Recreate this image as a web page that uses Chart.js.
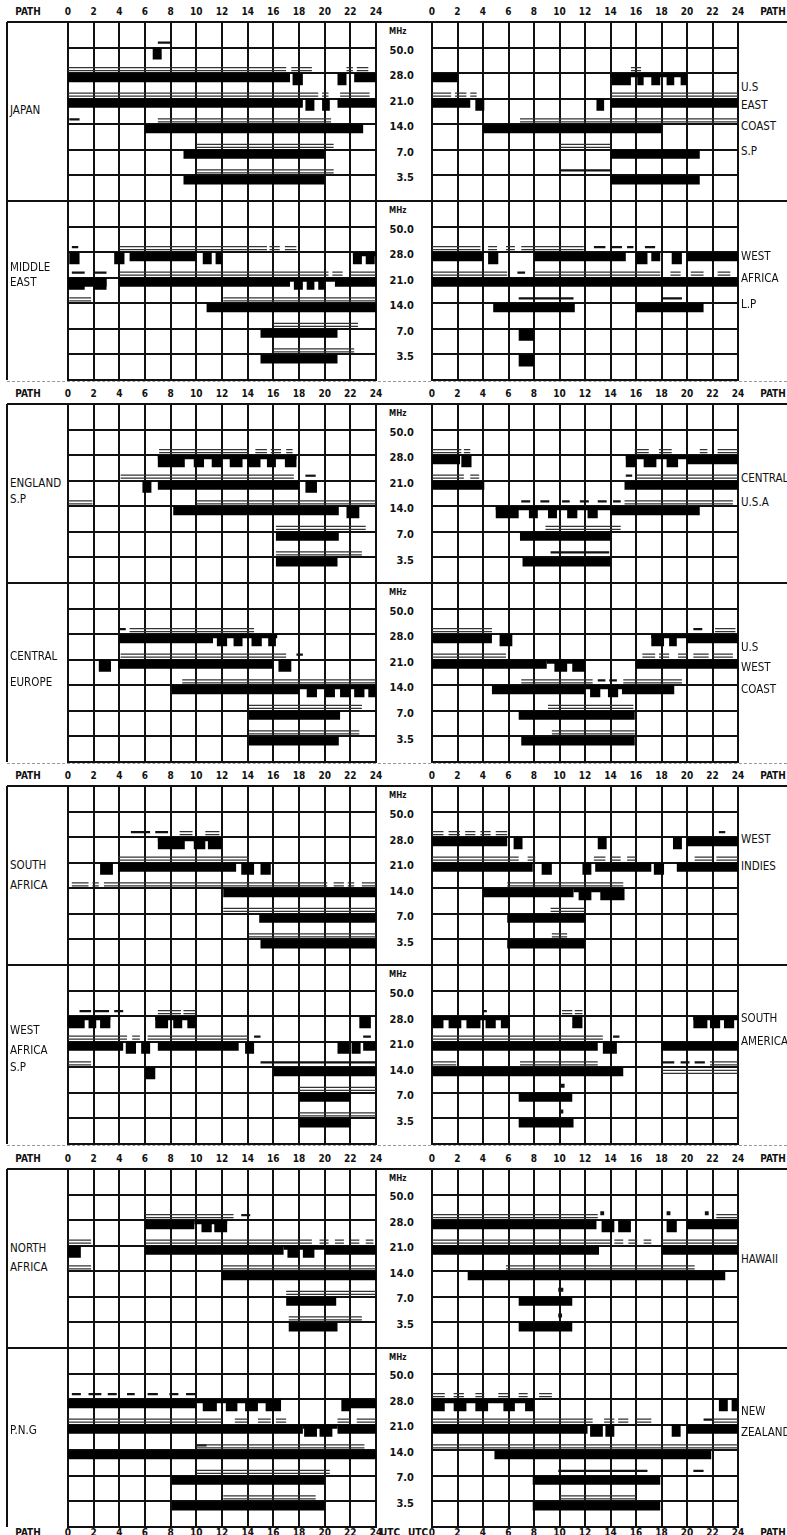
<!DOCTYPE html>
<html>
<head>
<meta charset="utf-8">
<script src="https://cdn.jsdelivr.net/npm/chart.js@4.4.1/dist/chart.umd.min.js"></script>
<style>
  body { margin: 0; background: #fff; width: 787px; height: 1535px; position: relative; overflow: hidden;
         font-family: "DejaVu Sans Condensed", "DejaVu Sans", sans-serif; color: #111; }
  canvas { position: absolute; }
  .t { position: absolute; white-space: nowrap; line-height: 1; }
  .hd { font-weight: bold; font-size: 10px; transform: translate(-50%, -50%); }
  .mhz { font-weight: bold; font-size: 11px; transform: translate(-100%, -50%); }
  .mhzu { font-weight: bold; font-size: 8px; transform: translate(0, -50%); }
  .nm { font-size: 11.5px; transform: translate(0, -50%); }
  .hl { position: absolute; height: 0; border-top: 2px solid #111; }
  .vl { position: absolute; width: 0; border-left: 2px solid #111; }
  .dl { position: absolute; height: 0; border-top: 1px dashed #999; }
</style>
</head>
<body>
<script>
// hours along the path axis and the frequency bands
const hourTicks = [0, 2, 4, 6, 8, 10, 12, 14, 16, 18, 20, 22, 24];
const bandLabels = ['50.0', '28.0', '21.0', '14.0', '7.0', '3.5'];
const bandValues = [50, 28, 21, 14, 7, 3.5];

// [kind, band MHz, from hour, to hour]
// bar = solid bar, blk = hanging block, str = thin strip, dbl = double line,
// ln = single line, low = double line under band, dot = small mark
const japan = [
  ['blk', 50, 6.6, 7.3], ['ln', 50, 7, 8],
  ['dbl', 28, 0, 17], ['dbl', 28, 17.4, 19], ['dbl', 28, 21.7, 22.2], ['dbl', 28, 22.5, 23.4],
  ['bar', 28, 0, 17.3], ['blk', 28, 17.5, 18.3], ['blk', 28, 21, 21.7], ['bar', 28, 22.3, 24],
  ['dbl', 21, 0, 19.5], ['dbl', 21, 19.8, 20.3], ['dbl', 21, 21.2, 23.5],
  ['bar', 21, 0, 18.3], ['blk', 21, 18.5, 19.2], ['blk', 21, 19.8, 20.4], ['bar', 21, 21, 24],
  ['ln', 14, 0.1, 0.9], ['dbl', 14, 7, 20.5], ['bar', 14, 6, 23],
  ['dbl', 7, 10, 20.7], ['bar', 7, 9, 20],
  ['dbl', 3.5, 10, 20.7], ['bar', 3.5, 9, 20]
];
const usEastSP = [
  ['bar', 28, 0, 2], ['dbl', 28, 15.6, 16.4], ['str', 28, 14, 20],
  ['blk', 28, 14.1, 15.6], ['blk', 28, 16.1, 16.6], ['blk', 28, 17.2, 17.9], ['blk', 28, 18.4, 19], ['blk', 28, 19.5, 20],
  ['dbl', 21, 0, 1.5], ['dbl', 21, 1.8, 2.7], ['dbl', 21, 3, 3.5], ['bar', 21, 0, 3], ['blk', 21, 3.4, 4.1],
  ['blk', 21, 12.9, 13.5], ['dbl', 21, 14, 24], ['bar', 21, 14, 24],
  ['dbl', 14, 6.9, 24], ['bar', 14, 4, 18],
  ['dbl', 7, 10, 14], ['bar', 7, 14, 21],
  ['ln', 3.5, 10, 14], ['bar', 3.5, 14, 21]
];
const middleEast = [
  ['ln', 28, 0.3, 0.8], ['dbl', 28, 4, 15.5], ['dbl', 28, 15.7, 16.5], ['dbl', 28, 16.9, 17.8],
  ['blk', 28, 0.1, 0.9], ['blk', 28, 3.6, 4.4], ['bar', 28, 4.8, 10], ['blk', 28, 10.5, 11.2], ['blk', 28, 11.5, 12],
  ['str', 28, 22.2, 24], ['blk', 28, 22.2, 22.9], ['blk', 28, 23.2, 23.9],
  ['ln', 21, 0.3, 1.3], ['ln', 21, 2.1, 3], ['dbl', 21, 4, 20.3], ['dbl', 21, 20.6, 21.4], ['dbl', 21, 22, 24],
  ['bar', 21, 0, 3], ['blk', 21, 0, 1.3], ['blk', 21, 2, 3], ['bar', 21, 4, 17.3], ['str', 21, 17.3, 20.8],
  ['blk', 21, 17.6, 18.3], ['blk', 21, 18.6, 19.2], ['blk', 21, 19.5, 20], ['bar', 21, 20.8, 24],
  ['dbl', 14, 0.1, 1.8], ['dbl', 14, 12.1, 24], ['bar', 14, 10.8, 24],
  ['dbl', 7, 16, 22.6], ['bar', 7, 15, 21],
  ['dbl', 3.5, 16, 22.3], ['bar', 3.5, 15, 21]
];
const westAfricaLP = [
  ['dbl', 28, 0, 3.8], ['dbl', 28, 4.4, 5.1], ['dbl', 28, 5.8, 6.5], ['dbl', 28, 7, 11.9],
  ['ln', 28, 12.7, 13.6], ['ln', 28, 14.1, 14.9], ['ln', 28, 15.3, 15.8], ['ln', 28, 16.7, 17.5],
  ['bar', 28, 0, 4], ['blk', 28, 4.4, 5.2], ['bar', 28, 8, 15.2], ['blk', 28, 16, 16.9], ['bar', 28, 17.2, 17.9],
  ['blk', 28, 18.8, 19.6], ['bar', 28, 20, 24],
  ['dbl', 21, 0, 5.9], ['ln', 21, 6.7, 7.3], ['dbl', 21, 8, 17.9], ['dbl', 21, 18.7, 19.5], ['dbl', 21, 20.3, 21.3], ['dbl', 21, 22.4, 23.4],
  ['bar', 21, 0, 24],
  ['ln', 14, 6.8, 11.1], ['ln', 14, 18, 19.6], ['bar', 14, 4.8, 11.2], ['bar', 14, 16, 21.3],
  ['blk', 7, 6.8, 8],
  ['blk', 3.5, 6.8, 8]
];
const englandSP = [
  ['dbl', 28, 7.1, 14.1], ['dbl', 28, 14.6, 15.5], ['dbl', 28, 15.8, 16.6], ['dbl', 28, 17, 17.5],
  ['str', 28, 7, 17.8], ['blk', 28, 7, 9.1], ['blk', 28, 9.8, 10.6], ['blk', 28, 11.2, 12], ['blk', 28, 12.6, 13.6],
  ['blk', 28, 14, 15], ['blk', 28, 15.5, 16.2], ['blk', 28, 16.9, 17.8],
  ['dbl', 21, 4.1, 17.6], ['ln', 21, 18.5, 19.3],
  ['blk', 21, 5.8, 6.5], ['bar', 21, 7, 18], ['blk', 21, 18.5, 19.4],
  ['dbl', 14, 0, 1.9], ['dbl', 14, 10, 24], ['bar', 14, 8.2, 21.1], ['blk', 14, 21.7, 22.7],
  ['dbl', 7, 16.2, 23.2], ['bar', 7, 16.2, 21.1],
  ['dbl', 3.5, 16.2, 22.9], ['bar', 3.5, 16.2, 21]
];
const centralUSA = [
  ['dbl', 28, 0, 2.3], ['dbl', 28, 2.5, 3], ['bar', 28, 0, 2.2], ['blk', 28, 2.3, 3.1],
  ['dbl', 28, 15.9, 17], ['dbl', 28, 17.8, 18.8], ['dbl', 28, 21, 21.6], ['dbl', 28, 22.4, 24],
  ['str', 28, 15.2, 20], ['blk', 28, 15.2, 16], ['blk', 28, 16.6, 17.6], ['blk', 28, 18.4, 19.3], ['bar', 28, 20, 24],
  ['dbl', 21, 0, 2.5], ['dbl', 21, 3, 3.7], ['bar', 21, 0, 4.1],
  ['ln', 21, 15.2, 15.7], ['dbl', 21, 16, 24], ['bar', 21, 15.1, 24],
  ['ln', 14, 7, 7.7], ['ln', 14, 8.5, 9.2], ['ln', 14, 10.2, 10.8], ['ln', 14, 11.6, 12.3], ['ln', 14, 13, 13.7],
  ['ln', 14, 14.2, 14.8], ['dbl', 14, 15.1, 23.6],
  ['str', 14, 5, 14], ['blk', 14, 5, 6.8], ['blk', 14, 7.6, 8.3], ['blk', 14, 9.1, 9.8], ['blk', 14, 10.6, 11.4],
  ['blk', 14, 12.2, 13], ['bar', 14, 14, 21],
  ['dbl', 7, 8.9, 14.8], ['bar', 7, 6.9, 14],
  ['ln', 3.5, 9.3, 13.9], ['bar', 3.5, 7.1, 14]
];
const centralEurope = [
  ['ln', 28, 4, 4.5], ['dbl', 28, 4.8, 14.5],
  ['bar', 28, 4, 11.3], ['str', 28, 11.3, 16.3], ['blk', 28, 11.6, 12.4], ['blk', 28, 12.9, 13.6], ['blk', 28, 14.3, 15.1], ['blk', 28, 15.6, 16.2],
  ['dbl', 21, 4.1, 17], ['ln', 21, 17.8, 18.3],
  ['blk', 21, 2.4, 3.35], ['bar', 21, 3.9, 16], ['blk', 21, 16.4, 17.4],
  ['dbl', 14, 8.9, 24], ['bar', 14, 8.1, 18], ['str', 14, 18, 24], ['blk', 14, 18.6, 19.4], ['blk', 14, 20, 20.8],
  ['blk', 14, 21.2, 22], ['blk', 14, 22.3, 23.1], ['blk', 14, 23.4, 24],
  ['dbl', 7, 14.1, 22.9], ['bar', 7, 14.1, 21.2],
  ['dbl', 3.5, 14.1, 22.7], ['bar', 3.5, 14.1, 21.1]
];
const usWestCoast = [
  ['dbl', 28, 0, 4.7], ['bar', 28, 0, 4.7], ['blk', 28, 5.3, 6.3],
  ['ln', 28, 20.5, 21.2], ['dbl', 28, 22.2, 23.8],
  ['str', 28, 17.2, 20], ['blk', 28, 17.2, 18.2], ['blk', 28, 18.6, 19.2], ['bar', 28, 20, 24],
  ['dbl', 21, 0, 5.8], ['bar', 21, 0, 9], ['str', 21, 9, 12], ['blk', 21, 9.6, 10.6], ['blk', 21, 11, 12],
  ['dbl', 21, 16.5, 17.5], ['dbl', 21, 17.8, 18.6], ['dbl', 21, 19.3, 20], ['dbl', 21, 20.5, 21.7], ['dbl', 21, 22, 23.6],
  ['bar', 21, 16, 24],
  ['dbl', 14, 7, 12.6], ['ln', 14, 13, 13.6], ['ln', 14, 13.9, 14.5], ['dbl', 14, 15, 19.6],
  ['bar', 14, 4.7, 12], ['str', 14, 12, 15], ['blk', 14, 12.4, 13.2], ['blk', 14, 13.8, 14.6], ['bar', 14, 14.9, 19],
  ['dbl', 7, 9.1, 15.8], ['bar', 7, 6.8, 15.9],
  ['dbl', 3.5, 9.4, 15.9], ['bar', 3.5, 7, 15.9]
];
const southAfrica = [
  ['ln', 28, 4.9, 6.4], ['ln', 28, 6.8, 7.8], ['dbl', 28, 8.7, 9.7], ['dbl', 28, 10.7, 11.8],
  ['str', 28, 7, 12], ['blk', 28, 7, 9.1], ['blk', 28, 9.8, 10.7], ['blk', 28, 10.9, 12],
  ['dbl', 21, 3.9, 14.1],
  ['blk', 21, 2.5, 3.5], ['bar', 21, 3.9, 13.1], ['blk', 21, 13.5, 14.5], ['blk', 21, 15, 15.8],
  ['dbl', 14, 0.3, 1.6], ['dbl', 14, 1.9, 2.4], ['dbl', 14, 2.8, 20.2], ['dbl', 14, 20.7, 21.5], ['dbl', 14, 21.8, 22.3], ['dbl', 14, 22.9, 24],
  ['bar', 14, 12.1, 24],
  ['dbl', 7, 12.1, 24], ['bar', 7, 14.9, 24],
  ['dbl', 3.5, 14.1, 24], ['bar', 3.5, 15, 24]
];
const westIndies = [
  ['dbl', 28, 0, 0.9], ['dbl', 28, 1.3, 2.2], ['dbl', 28, 2.6, 3.4], ['dbl', 28, 3.8, 4.6], ['dbl', 28, 5, 5.9], ['ln', 28, 22.5, 23],
  ['bar', 28, 0, 5.9], ['blk', 28, 6.4, 7.1], ['blk', 28, 13, 13.7], ['blk', 28, 18.9, 19.6], ['bar', 28, 20, 24],
  ['dbl', 21, 0, 6.8], ['dbl', 21, 7.5, 8.1], ['dbl', 21, 12.7, 13.6], ['dbl', 21, 14, 14.8], ['dbl', 21, 15.3, 16],
  ['dbl', 21, 20.6, 22], ['dbl', 21, 22.3, 24],
  ['bar', 21, 0, 7.9], ['blk', 21, 8.6, 9.4], ['blk', 21, 11.8, 12.5], ['bar', 21, 12.8, 17.2], ['blk', 21, 17.4, 18.2], ['bar', 21, 19.2, 24],
  ['dbl', 14, 5.9, 15], ['bar', 14, 4, 11.1], ['str', 14, 11.1, 15], ['blk', 14, 11.5, 12.5], ['blk', 14, 13.2, 15.1],
  ['dbl', 7, 9.3, 12], ['bar', 7, 5.9, 12],
  ['dbl', 3.5, 9.4, 10.6], ['bar', 3.5, 5.9, 12]
];
const westAfricaSP = [
  ['ln', 28, 0.9, 1.8], ['ln', 28, 2.1, 3.2], ['ln', 28, 3.6, 4.3], ['dbl', 28, 7, 8.8], ['dbl', 28, 9, 10],
  ['str', 28, 0, 3.3], ['blk', 28, 0, 1.3], ['blk', 28, 1.6, 2.2], ['blk', 28, 2.5, 3.3],
  ['str', 28, 6.8, 10], ['blk', 28, 6.8, 7.8], ['blk', 28, 8.2, 8.9], ['blk', 28, 9.3, 10], ['blk', 28, 22.7, 23.6],
  ['dbl', 21, 0, 4.6], ['dbl', 21, 5, 5.6], ['dbl', 21, 6.2, 14.1], ['ln', 21, 14.5, 15], ['ln', 21, 23, 23.6],
  ['bar', 21, 0, 4.3], ['blk', 21, 4.5, 5.3], ['blk', 21, 5.7, 6.4], ['bar', 21, 7, 13.3], ['blk', 21, 13.8, 14.5],
  ['blk', 21, 21, 21.9], ['blk', 21, 22.1, 22.8], ['bar', 21, 23, 24],
  ['dbl', 14, 0, 1.8], ['ln', 14, 15, 24], ['blk', 14, 6, 6.8], ['bar', 14, 16, 24],
  ['dbl', 7, 18, 24], ['bar', 7, 18, 22],
  ['dbl', 3.5, 18, 24], ['bar', 3.5, 18, 22]
];
const southAmerica = [
  ['ln', 28, 4, 4.3], ['dbl', 28, 10.2, 11], ['dbl', 28, 11.2, 11.8],
  ['str', 28, 0, 6.1], ['blk', 28, 0, 0.9], ['blk', 28, 1.3, 2.3], ['blk', 28, 2.7, 3.8], ['blk', 28, 4.2, 5], ['blk', 28, 5.4, 6.1],
  ['blk', 28, 11, 11.8], ['str', 28, 20.5, 24], ['blk', 28, 20.5, 21.6], ['blk', 28, 21.8, 22.6], ['blk', 28, 22.9, 23.7],
  ['dbl', 21, 0, 13.4], ['ln', 21, 14.2, 14.7], ['bar', 21, 0, 13], ['blk', 21, 13.4, 14.5], ['bar', 21, 18, 24],
  ['dbl', 14, 0, 1.9], ['dbl', 14, 6.9, 13], ['ln', 14, 18, 19], ['ln', 14, 19.5, 20.2], ['ln', 14, 20.6, 21.4], ['dbl', 14, 21.8, 24],
  ['bar', 14, 0, 15], ['low', 14, 18, 24],
  ['dot', 7, 10.1, 10.4], ['bar', 7, 6.8, 11],
  ['dot', 3.5, 10, 10.3], ['bar', 3.5, 6.8, 11.1]
];
const northAfrica = [
  ['dbl', 28, 6, 12.9], ['ln', 28, 13.5, 14.2],
  ['bar', 28, 6, 9.85], ['str', 28, 9.85, 12.4], ['blk', 28, 10.4, 11.2], ['blk', 28, 11.4, 12.4],
  ['dbl', 21, 0, 1.8], ['dbl', 21, 6, 19], ['dbl', 21, 19.6, 20.3], ['dbl', 21, 20.8, 21.5], ['dbl', 21, 22, 22.7], ['dbl', 21, 23.2, 23.8],
  ['blk', 21, 0, 1], ['bar', 21, 6, 16.8], ['str', 21, 16.8, 20], ['blk', 21, 17.1, 18], ['blk', 21, 18.3, 19.2], ['bar', 21, 20, 24],
  ['dbl', 14, 0, 1.8], ['dbl', 14, 12, 24], ['bar', 14, 12, 24],
  ['dbl', 7, 17, 24], ['bar', 7, 17, 20.9],
  ['dbl', 3.5, 17.2, 22.9], ['bar', 3.5, 17.2, 21]
];
const hawaii = [
  ['dbl', 28, 0, 13], ['dot', 28, 13.2, 13.5], ['dot', 28, 18.4, 18.7], ['dot', 28, 21.4, 21.7], ['dbl', 28, 22.3, 24],
  ['bar', 28, 0, 12.9], ['blk', 28, 13.3, 14.3], ['blk', 28, 14.6, 15.6], ['blk', 28, 18.4, 19.2], ['bar', 28, 20, 24],
  ['dbl', 21, 0, 14], ['dbl', 21, 14.3, 15], ['dbl', 21, 15.4, 16.1], ['dbl', 21, 16.6, 17.2], ['dbl', 21, 18, 24],
  ['bar', 21, 0, 13.1], ['bar', 21, 18, 24],
  ['dbl', 14, 5.8, 20.6], ['bar', 14, 2.8, 23],
  ['dot', 7, 9.9, 10.3], ['bar', 7, 6.8, 11],
  ['dot', 3.5, 9.9, 10.2], ['bar', 3.5, 6.8, 11]
];
const png = [
  ['ln', 28, 0.3, 1], ['ln', 28, 1.6, 2.6], ['ln', 28, 3.1, 3.8], ['ln', 28, 4.6, 5.2], ['ln', 28, 6.2, 7], ['ln', 28, 7.9, 8.6], ['ln', 28, 9.2, 10],
  ['bar', 28, 0, 10], ['str', 28, 10, 16.6], ['blk', 28, 10.5, 11.6], ['blk', 28, 12.3, 13.2], ['blk', 28, 13.8, 14.8], ['blk', 28, 15.4, 16.6],
  ['blk', 28, 21.3, 22], ['bar', 28, 22, 24],
  ['dbl', 21, 0, 12], ['dbl', 21, 13, 14], ['dbl', 21, 14.8, 15.8], ['dbl', 21, 16.2, 17], ['dbl', 21, 21, 22], ['dbl', 21, 22.5, 24],
  ['bar', 21, 0, 18.3], ['str', 21, 18.3, 21], ['blk', 21, 18.4, 19.4], ['blk', 21, 19.6, 20.6], ['bar', 21, 21, 24],
  ['ln', 14, 10, 10.8], ['dbl', 14, 10, 23.1], ['bar', 14, 0, 24],
  ['dbl', 7, 10, 20.4], ['bar', 7, 8.1, 20],
  ['dbl', 3.5, 12.1, 19.3], ['bar', 3.5, 8.1, 20]
];
const newZealand = [
  ['dbl', 28, 0, 1], ['dbl', 28, 1.7, 2.5], ['dbl', 28, 3.4, 4.1], ['dbl', 28, 5.2, 6], ['dbl', 28, 6.8, 7.5], ['dbl', 28, 8.4, 9.4],
  ['str', 28, 0, 8], ['blk', 28, 0, 1], ['blk', 28, 1.7, 2.7], ['blk', 28, 3.4, 4.4], ['blk', 28, 5.6, 6.5], ['blk', 28, 7.3, 8],
  ['blk', 28, 22.5, 23.2], ['blk', 28, 23.5, 24],
  ['dbl', 21, 0, 12.6], ['dbl', 21, 13.5, 14.3], ['dbl', 21, 14.6, 15.4], ['dbl', 21, 16, 17.2], ['ln', 21, 21.3, 22], ['dbl', 21, 22, 24],
  ['bar', 21, 0, 12.2], ['blk', 21, 12.4, 13.4], ['blk', 21, 13.6, 14.3], ['blk', 21, 18.8, 19.5], ['bar', 21, 20, 24],
  ['dbl', 14, 0, 24], ['bar', 14, 4.9, 21.9],
  ['ln', 7, 20.5, 21.3], ['ln', 7, 9.9, 16.9], ['bar', 7, 7.9, 17.9],
  ['dbl', 3.5, 10, 16], ['bar', 3.5, 7.9, 17.9]
];

// which panel goes where, and the hand-lettered path names (text, y offset in panel)
const panels = [
  { items: japan, g: 0, row: 0, side: 0, name: [['JAPAN', 89]] },
  { items: usEastSP, g: 0, row: 0, side: 1, name: [['U.S', 66], ['EAST', 84], ['COAST', 105], ['S.P', 130]] },
  { items: middleEast, g: 0, row: 1, side: 0, name: [['MIDDLE', 67], ['EAST', 82]] },
  { items: westAfricaLP, g: 0, row: 1, side: 1, name: [['WEST', 56], ['AFRICA', 78], ['L.P', 104]] },
  { items: englandSP, g: 1, row: 0, side: 0, name: [['ENGLAND', 80], ['S.P', 96]] },
  { items: centralUSA, g: 1, row: 0, side: 1, name: [['CENTRAL', 75], ['U.S.A', 99]] },
  { items: centralEurope, g: 1, row: 1, side: 0, name: [['CENTRAL', 74], ['EUROPE', 100]] },
  { items: usWestCoast, g: 1, row: 1, side: 1, name: [['U.S', 65], ['WEST', 85], ['COAST', 107]] },
  { items: southAfrica, g: 2, row: 0, side: 0, name: [['SOUTH', 80], ['AFRICA', 100]] },
  { items: westIndies, g: 2, row: 0, side: 1, name: [['WEST', 54], ['INDIES', 81]] },
  { items: westAfricaSP, g: 2, row: 1, side: 0, name: [['WEST', 66], ['AFRICA', 86], ['S.P', 103]] },
  { items: southAmerica, g: 2, row: 1, side: 1, name: [['SOUTH', 54], ['AMERICA', 77]] },
  { items: northAfrica, g: 3, row: 0, side: 0, name: [['NORTH', 80], ['AFRICA', 99]] },
  { items: hawaii, g: 3, row: 0, side: 1, name: [['HAWAII', 91]] },
  { items: png, g: 3, row: 1, side: 0, name: [['P.N.G', 83]] },
  { items: newZealand, g: 3, row: 1, side: 1, name: [['NEW', 64], ['ZEALAND', 85]] }
];

// layout
const PANEL_X = [68, 432];
const PANEL_W = [308, 306];
const TOP0 = 22, GROUP_STEP = 382.2, PANEL_H = 179;

// how each kind is drawn: offset from band line in px, line width
const markStyles = {
  dbl: [{ off: -2.5, w: 1.2, color: '#333' }, { off: -5.5, w: 1.2, color: '#333' }],
  low: [{ off: 3, w: 1.2, color: '#333' }, { off: 6, w: 1.2, color: '#333' }],
  ln: [{ off: -5, w: 2.2, color: '#111' }],
  dot: [{ off: -7, w: 4, color: '#111' }],
  str: [{ off: 2, w: 4, color: '#000' }],
  bar: [{ off: 4.5, w: 9, color: '#000' }],
  blk: [{ off: 6, w: 12, color: '#000' }]
};

function addEl(cls, css, text) {
  const d = document.createElement('div');
  d.className = cls;
  d.style.cssText = css;
  if (text !== undefined) d.textContent = text;
  document.body.appendChild(d);
  return d;
}

function makePanel(p) {
  const x0 = PANEL_X[p.side], w = PANEL_W[p.side];
  const y0 = TOP0 + p.g * GROUP_STEP + p.row * PANEL_H;
  const cv = document.createElement('canvas');
  cv.width = w + 4; cv.height = PANEL_H + 4;
  cv.style.left = (x0 - 2) + 'px';
  cv.style.top = (y0 - 2) + 'px';
  document.body.appendChild(cv);
  const unit = PANEL_H / 7;
  const datasets = [];
  Object.keys(markStyles).forEach(kind => {
    markStyles[kind].forEach(st => {
      const pts = [];
      p.items.filter(it => it[0] === kind).forEach(([, band, s, e]) => {
        const y = bandValues.indexOf(band) + 1 + st.off / unit;
        pts.push({ x: s, y: y }, { x: e, y: y }, { x: e, y: null });
      });
      if (pts.length) {
        datasets.push({
          data: pts, borderColor: st.color, borderWidth: st.w, borderCapStyle: 'butt',
          pointRadius: 0, spanGaps: false, tension: 0, fill: false
        });
      }
    });
  });
  const axis = (min, max, step, reverse) => ({
    type: 'linear', min: min, max: max, reverse: reverse,
    ticks: { stepSize: step, display: false },
    grid: { color: '#111', lineWidth: 2, drawTicks: false },
    border: { color: '#111', width: 2 }
  });
  new Chart(cv, {
    type: 'line',
    data: { datasets: datasets },
    options: {
      responsive: false, animation: false, events: [],
      layout: { padding: 2 },
      plugins: { legend: { display: false }, tooltip: { enabled: false } },
      scales: { x: axis(0, 24, 2, false), y: axis(0, 7, 1, true) }
    }
  });
  // path name in the side column
  p.name.forEach(([txt, dy]) => {
    const nx = p.side === 0 ? 10 : 741;
    addEl('t nm', `left:${nx}px;top:${y0 + dy}px;`, txt);
  });
}

function header(yc, footer) {
  addEl('t hd', `left:28px;top:${yc}px;`, 'PATH');
  addEl('t hd', `left:773px;top:${yc}px;`, 'PATH');
  [0, 1].forEach(side => {
    hourTicks.forEach(h => {
      const x = PANEL_X[side] + PANEL_W[side] * h / 24;
      addEl('t hd', `left:${x}px;top:${yc}px;`, String(h));
    });
  });
  if (footer) {
    addEl('t hd', `left:${PANEL_X[0] + PANEL_W[0] + 14}px;top:${yc}px;`, 'UTC');
    addEl('t hd', `left:${PANEL_X[1] - 14}px;top:${yc}px;`, 'UTC');
  }
}

for (let g = 0; g < 4; g++) {
  const top = TOP0 + g * GROUP_STEP;
  header(top - 10, false);
  // frame lines across the full width
  addEl('hl', `left:7px;width:780px;top:${top - 1}px;`);
  addEl('hl', `left:7px;width:780px;top:${top + PANEL_H - 1}px;`);
  addEl('vl', `left:6px;top:${top}px;height:${PANEL_H * 2}px;`);
  if (g < 3) addEl('dl', `left:7px;width:780px;top:${top + PANEL_H * 2 + 1}px;`);
  // MHz column labels
  for (let r = 0; r < 2; r++) {
    const y0 = top + r * PANEL_H;
    const unit = PANEL_H / 7;
    addEl('t mhzu', `left:389px;top:${y0 + 10}px;`, 'MHz');
    bandLabels.forEach((lab, i) => {
      addEl('t mhz', `left:414px;top:${y0 + (i + 1) * unit + 2}px;`, lab);
    });
  }
}
// footer row under the last group
header(TOP0 + 3 * GROUP_STEP + 2 * PANEL_H + 6, true);

panels.forEach(makePanel);
</script>
</body>
</html>
